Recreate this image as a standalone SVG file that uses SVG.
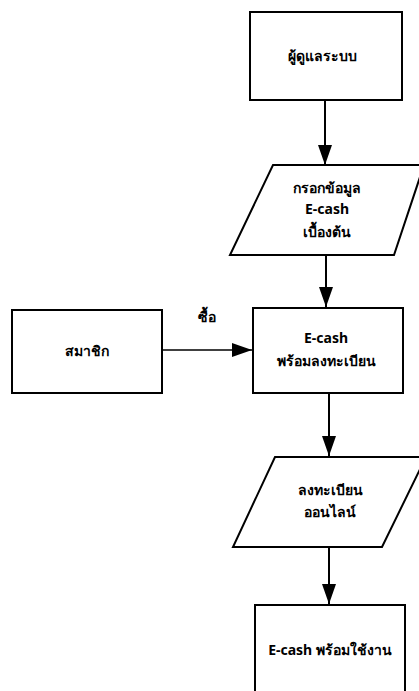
<svg xmlns="http://www.w3.org/2000/svg" width="419" height="691" viewBox="0 0 419 691">
<style>
.s{fill:#fff;stroke:#000;stroke-width:2}
.t{font-family:"Noto Sans","Liberation Sans",sans-serif;font-size:14px;font-weight:bold;fill:#000;text-anchor:middle}
.c{stroke:#000;stroke-width:2;fill:none}
</style>
<defs>
<marker id="av" viewBox="0 0 14 20" refX="7" refY="20" markerWidth="14" markerHeight="20" markerUnits="userSpaceOnUse" orient="0">
<path d="M0,0 L14,0 L7,20 Z" fill="#000"/>
</marker>
</defs>
<rect width="419" height="691" fill="#fff"/>
<g id="connectors">
<line class="c" x1="325" y1="100" x2="325" y2="165" marker-end="url(#av)"/>
<line class="c" x1="326" y1="255" x2="326" y2="307" marker-end="url(#av)"/>
<line class="c" x1="329" y1="393" x2="329" y2="456" marker-end="url(#av)"/>
<line class="c" x1="329" y1="547" x2="329" y2="604" marker-end="url(#av)"/>
<line x1="162" y1="350" x2="252" y2="350" stroke="#000" stroke-width="1.5"/>
<path d="M232,343 L252,350 L232,357 Z" fill="#000"/>
<text class="t" x="207" y="322">ซื้อ</text>
</g>
<g id="admin">
<rect class="s" x="250" y="12" width="152" height="88"/>
<text class="t" x="322" y="61">ผู้ดูแลระบบ</text>
</g>
<g id="input">
<polygon class="s" points="273,165 424,165 394,255 230,255"/>
<text class="t" x="327" y="193">กรอกข้อมูล</text>
<text class="t" x="327" y="214">E-cash</text>
<text class="t" x="327" y="237">เบื้องต้น</text>
</g>
<g id="member">
<rect class="s" x="12" y="310" width="150" height="83"/>
<text class="t" x="87" y="356">สมาชิก</text>
</g>
<g id="ready-reg">
<rect class="s" x="253" y="308" width="150" height="85"/>
<text class="t" x="326" y="343">E-cash</text>
<text class="t" x="326" y="366">พร้อมลงทะเบียน</text>
</g>
<g id="register">
<polygon class="s" points="275,457 426,457 382,547 233,547"/>
<text class="t" x="330" y="495">ลงทะเบียน</text>
<text class="t" x="330" y="517">ออนไลน์</text>
</g>
<g id="ready">
<rect class="s" x="255" y="605" width="150" height="100"/>
<text class="t" x="330" y="655">E-cash พร้อมใช้งาน</text>
</g>
</svg>
